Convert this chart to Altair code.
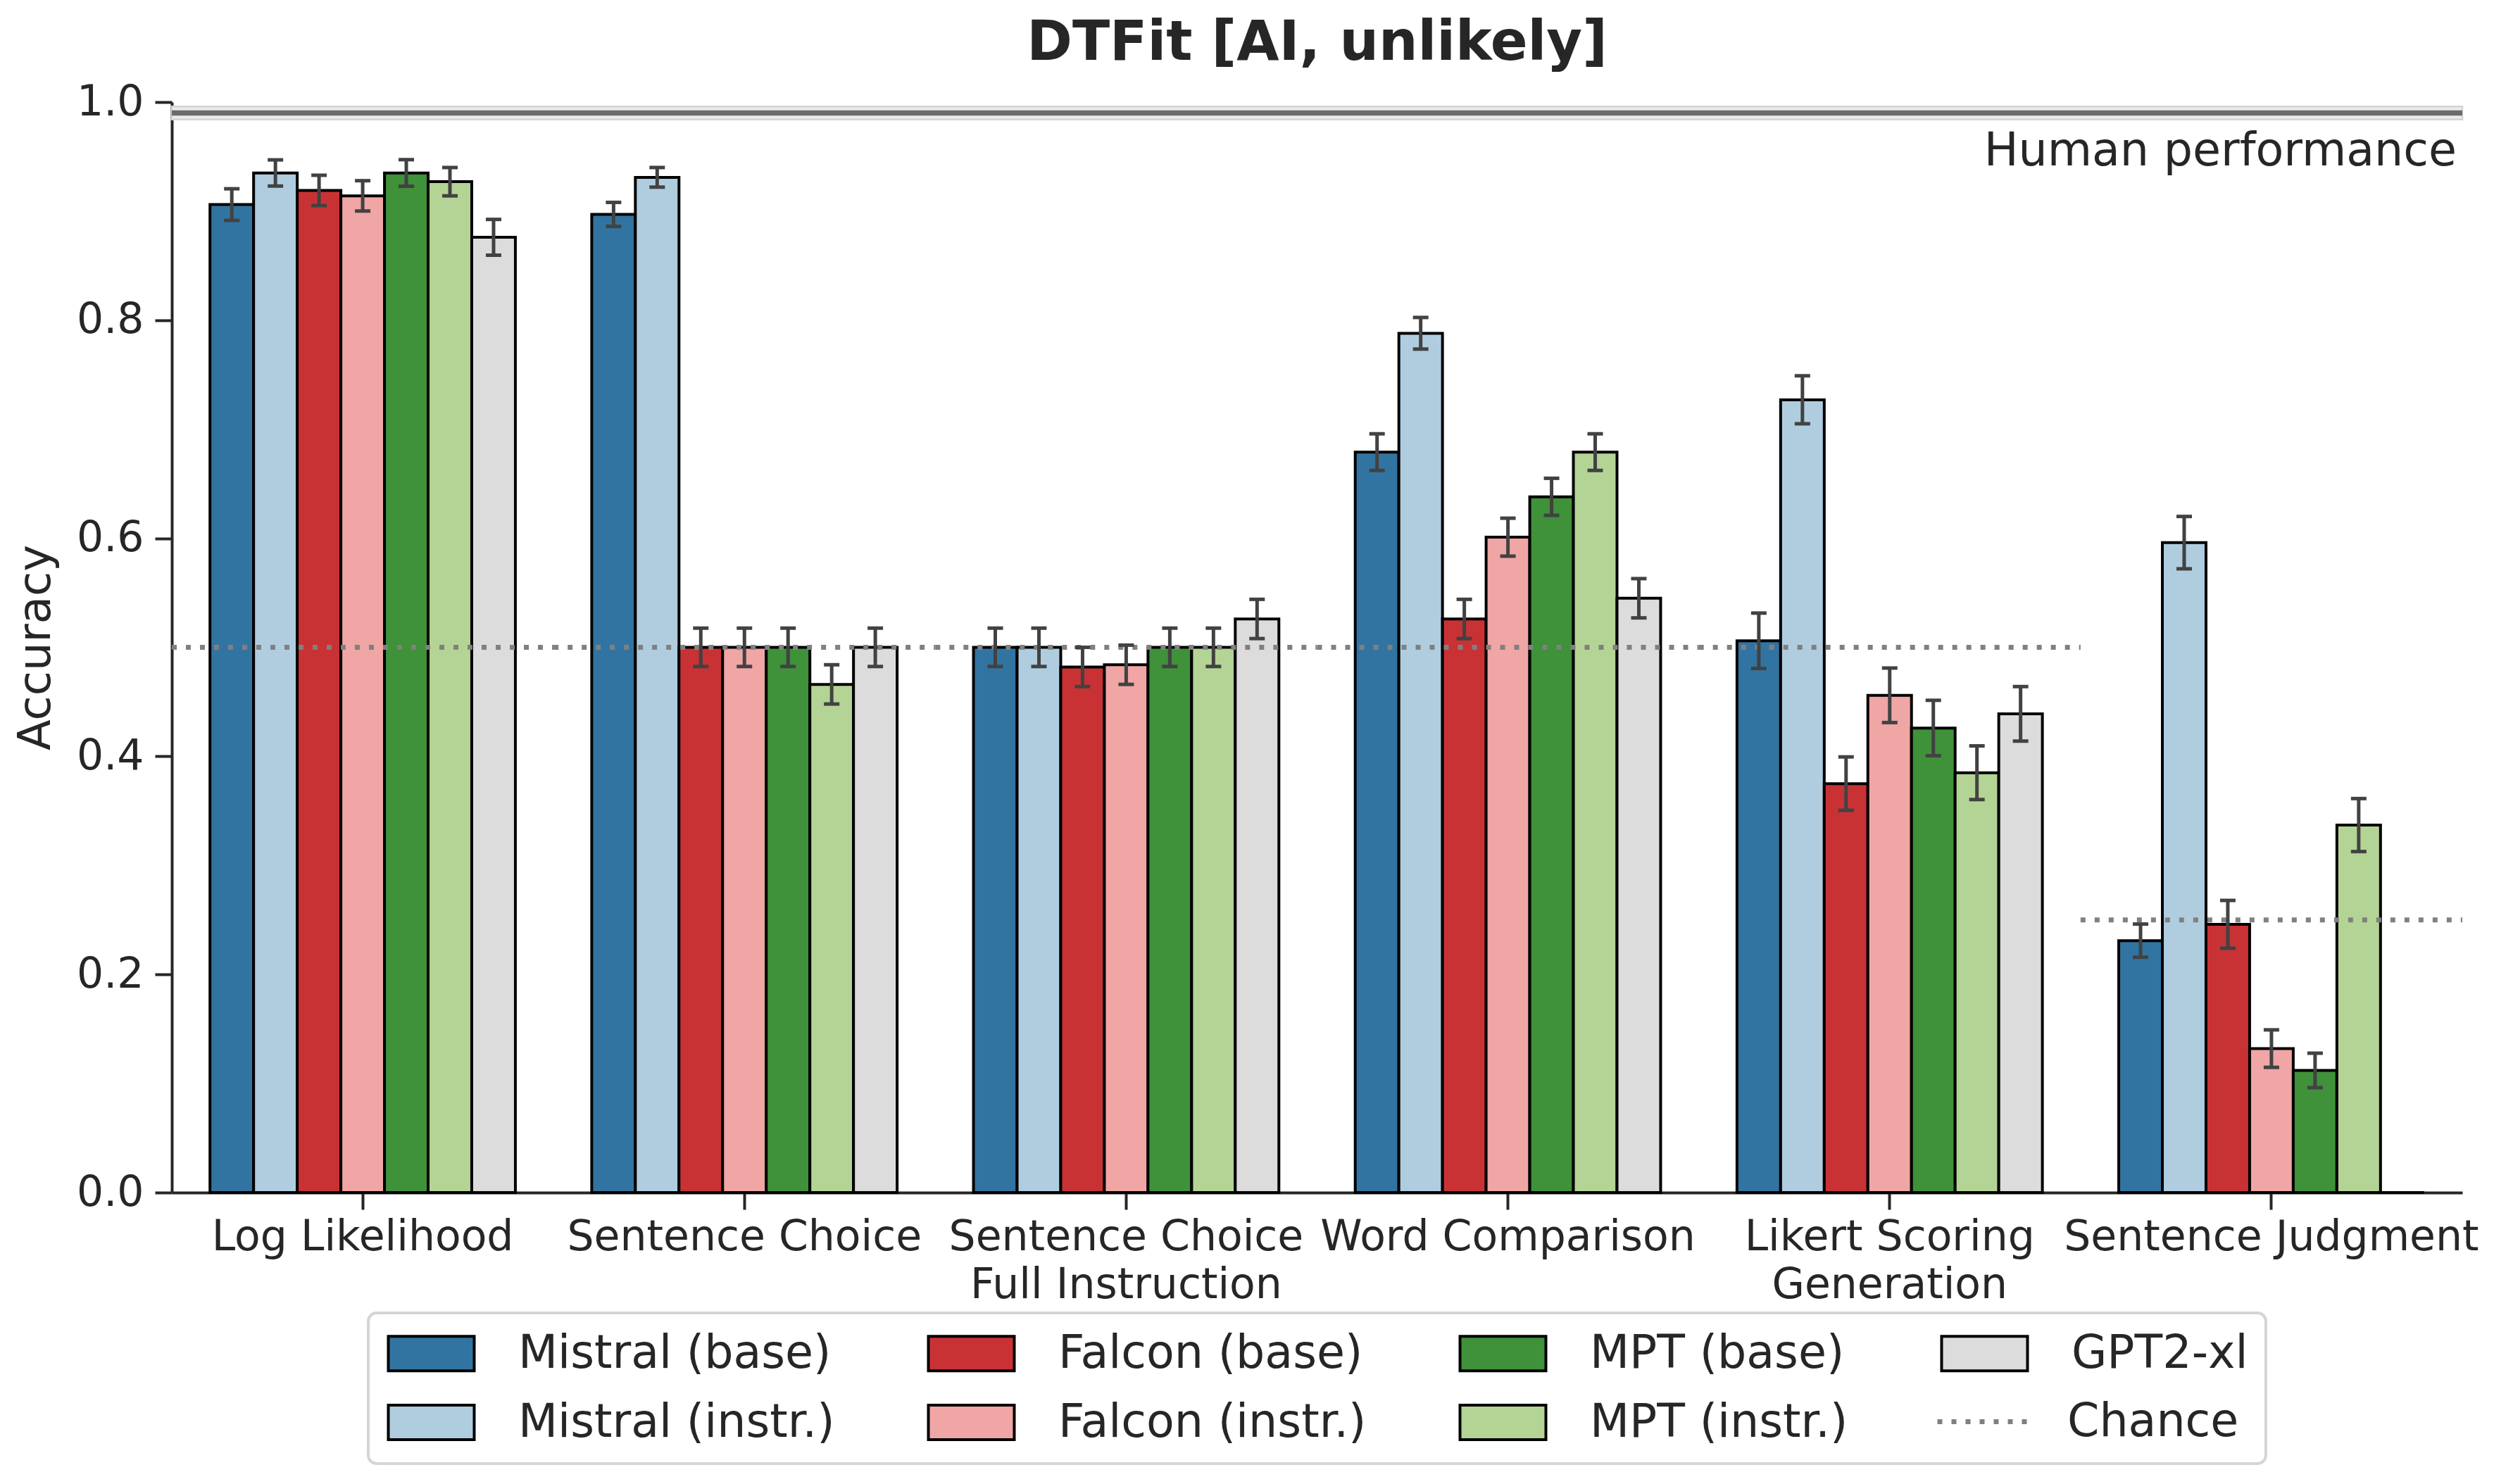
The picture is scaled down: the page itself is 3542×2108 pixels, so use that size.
import altair as alt
import pandas as pd

# ---------------- data ----------------
tasks = ["Log Likelihood", "Sentence Choice", "Sentence Choice|Full Instruction",
         "Word Comparison", "Likert Scoring|Generation", "Sentence Judgment"]
models = ["Mistral (base)", "Mistral (instr.)", "Falcon (base)", "Falcon (instr.)",
          "MPT (base)", "MPT (instr.)", "GPT2-xl"]
colors = ["#3274a1", "#b0cde0", "#c93235", "#efa6a5", "#3f913a", "#b4d495", "#dcdcdc"]

acc_mistral_base = [0.906, 0.897, 0.500, 0.679, 0.506, 0.231]
acc_mistral_instr = [0.935, 0.931, 0.500, 0.788, 0.727, 0.596]
acc_falcon_base = [0.919, 0.500, 0.482, 0.526, 0.375, 0.246]
acc_falcon_instr = [0.914, 0.500, 0.484, 0.601, 0.456, 0.132]
acc_mpt_base = [0.935, 0.500, 0.500, 0.638, 0.426, 0.112]
acc_mpt_instr = [0.927, 0.466, 0.500, 0.679, 0.385, 0.337]
acc_gpt2 = [0.876, 0.500, 0.526, 0.545, 0.439, 0.0]

err_mistral_base = [0.0145, 0.011, 0.0176, 0.0168, 0.0254, 0.0152]
err_mistral_instr = [0.012, 0.009, 0.0176, 0.0145, 0.022, 0.024]
err_falcon_base = [0.0139, 0.0176, 0.018, 0.018, 0.0245, 0.0219]
err_falcon_instr = [0.0139, 0.0176, 0.018, 0.0174, 0.025, 0.0172]
err_mpt_base = [0.0122, 0.0176, 0.0176, 0.017, 0.0254, 0.0158]
err_mpt_instr = [0.013, 0.018, 0.0176, 0.0168, 0.0246, 0.0243]
err_gpt2 = [0.0164, 0.0176, 0.018, 0.018, 0.025, 0.0]

chance_levels = [0.5, 0.5, 0.5, 0.5, 0.5, 0.25]
chance_label = "Chance"
human_value = 0.99
human_low = 0.984
human_high = 0.996
human_label = "Human performance"
chance_color = "#808080"

# ---------------- tables ----------------
acc_lists = [acc_mistral_base, acc_mistral_instr, acc_falcon_base, acc_falcon_instr,
             acc_mpt_base, acc_mpt_instr, acc_gpt2]
err_lists = [err_mistral_base, err_mistral_instr, err_falcon_base, err_falcon_instr,
             err_mpt_base, err_mpt_instr, err_gpt2]
rows = []
for m, accs, errs in zip(models, acc_lists, err_lists):
    for t, a, e in zip(tasks, accs, errs):
        rows.append({"task": t, "model": m, "acc": a, "err": e, "lo": a - e, "hi": a + e})
df = pd.DataFrame(rows)
err_df = df[df["err"] > 0].reset_index(drop=True)
chance_df = pd.DataFrame({"task": tasks, "chance": chance_levels,
                          "kind": [chance_label] * len(tasks)})
human_df = pd.DataFrame({"val": [human_value], "lo": [human_low], "hi": [human_high],
                         "label": [human_label]})

W, H = 3253, 1549
FONT = "DejaVu Sans"
TXT = "#262626"

x_scale = alt.Scale(domain=tasks, paddingInner=0, paddingOuter=0)
xo_scale = alt.Scale(domain=models, paddingInner=0, paddingOuter=0.875)
y_scale = alt.Scale(domain=[0, 1], nice=False, zero=True)

legend = alt.Legend(
    title=None, orient="none", legendX=279, legendY=1720, columns=4, direction="vertical",
    symbolType="M-2.5,-1H2.5V1H-2.5Z", symbolSize=2381, symbolOffset=32, labelOffset=91,
    symbolStrokeColor="black", symbolStrokeWidth=4, symbolOpacity=1,
    labelFontSize=65, labelFont=FONT, labelColor=TXT, labelLimit=2000,
    padding=25, rowPadding=32, columnPadding=124,
    fillColor="white", strokeColor="#d5d5d5", cornerRadius=12, zindex=1,
)

chance_legend = alt.Legend(
    title=None, orient="none", legendX=2504, legendY=1804,
    symbolType="stroke", symbolSize=17956, symbolStrokeColor=chance_color,
    symbolStrokeWidth=7, symbolOpacity=1, labelOffset=47,
    labelFontSize=65, labelFont=FONT, labelColor=TXT, labelLimit=2000,
    padding=0, strokeColor="transparent", zindex=2,
)

bars = alt.Chart(df).mark_bar(stroke="black", strokeWidth=4).encode(
    x=alt.X("task:N", scale=x_scale,
            axis=alt.Axis(title=None, labelExpr="split(datum.label, '|')", labelAngle=0,
                          labelLineHeight=68, labelPadding=10, labelLimit=2000)),
    xOffset=alt.XOffset("model:N", scale=xo_scale),
    y=alt.Y("acc:Q", scale=y_scale,
            axis=alt.Axis(title="Accuracy", values=[0, 0.2, 0.4, 0.6, 0.8, 1.0], format=".1f",
                          labelPadding=16, titlePadding=25)),
    color=alt.Color("model:N", scale=alt.Scale(domain=models, range=colors), legend=legend),
)

chance = alt.Chart(chance_df).mark_rule(color=chance_color, strokeWidth=7).encode(
    x=alt.X("task:N", scale=x_scale, bandPosition=0),
    x2=alt.X2("task", bandPosition=1),
    y=alt.Y("chance:Q", scale=y_scale, title="Accuracy"),
    strokeDash=alt.StrokeDash("kind:N", scale=alt.Scale(domain=[chance_label], range=[[7, 13]]),
                              legend=chance_legend),
)

ebar = alt.Chart(err_df).mark_rule(color="#424242", strokeWidth=5).encode(
    x=alt.X("task:N", scale=x_scale),
    xOffset=alt.XOffset("model:N", scale=xo_scale),
    y=alt.Y("lo:Q", scale=y_scale, title="Accuracy"),
    y2="hi:Q",
)

caps = alt.Chart(err_df).transform_fold(["lo", "hi"], as_=["end", "yv"]).mark_tick(
    color="#424242", size=22, thickness=5, orient="horizontal", opacity=1
).encode(
    x=alt.X("task:N", scale=x_scale),
    xOffset=alt.XOffset("model:N", scale=xo_scale),
    y=alt.Y("yv:Q", scale=y_scale, title="Accuracy"),
)

human_band = alt.Chart(human_df).mark_rect(fill="#ebebeb", stroke="#d4d4d4", strokeWidth=2.5).encode(
    y=alt.Y("lo:Q", scale=y_scale, title="Accuracy"), y2="hi:Q")
human_line = alt.Chart(human_df).mark_rule(color="#6b6b6b", strokeWidth=7.5).encode(
    y=alt.Y("val:Q", scale=y_scale, title="Accuracy"))
human_text = alt.Chart(human_df).mark_text(
    align="right", baseline="top", dx=-8, dy=24, fontSize=65, font=FONT, color=TXT
).encode(
    x=alt.value(W), y=alt.Y("val:Q", scale=y_scale, title="Accuracy"), text="label:N")

chart = alt.layer(human_band, human_line, bars, chance, ebar, caps, human_text).properties(
    width=W, height=H,
    title=alt.TitleParams("DTFit [AI, unlikely]", fontSize=78, fontWeight="bold", font=FONT,
                          color=TXT, anchor="middle", offset=14),
    padding={"left": 11, "top": 15, "right": 5, "bottom": 5},
).configure(font=FONT).configure_view(stroke="transparent").configure_axis(
    grid=False, domainColor=TXT, domainWidth=4, tickColor=TXT, tickWidth=4, tickSize=24,
    labelFont=FONT, labelFontSize=60, labelColor=TXT, labelLimit=2000,
    titleFont=FONT, titleFontSize=64, titleFontWeight="normal", titleColor=TXT,
).configure_legend(strokeWidth=4)

chart.save("out.html", embed_options={"renderer": "svg", "actions": False})
